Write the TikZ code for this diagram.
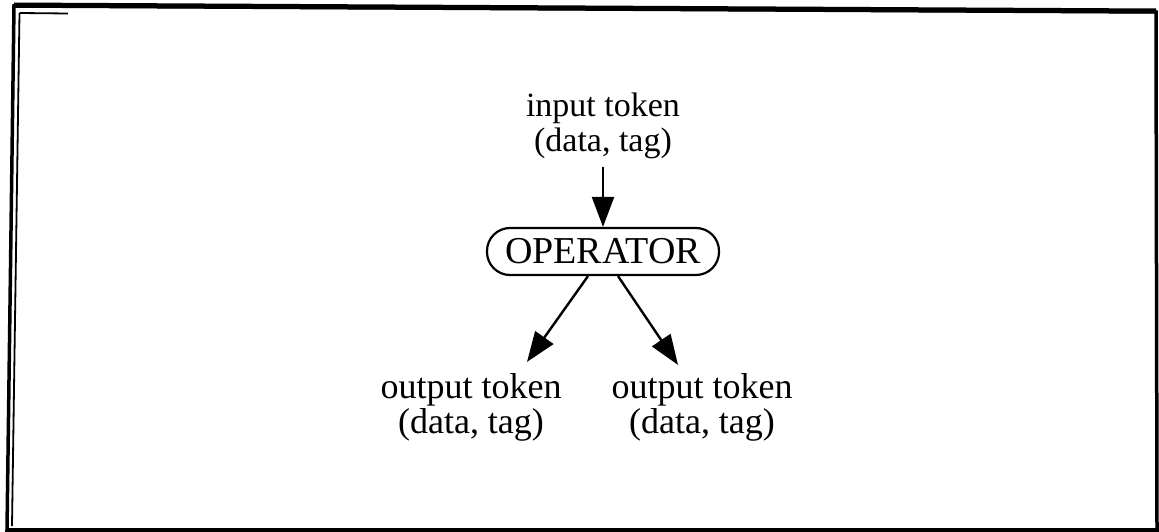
\documentclass[tikz,border=0pt]{standalone}
\usepackage{fontspec}
\setmainfont{Liberation Serif}
\usetikzlibrary{arrows.meta}
\begin{document}
\begin{tikzpicture}[x=1pt,y=-1pt,
  token/.style={font=\fontsize{34}{35}\selectfont, align=center, inner sep=0pt},
  bigtoken/.style={token, font=\fontsize{36}{35}\selectfont},
  opbox/.style={draw, line width=2.2pt, rounded corners=23pt,
    minimum width=232pt, minimum height=47pt, inner sep=0pt,
    font=\fontsize{38}{38}\selectfont},
  flow/.style={line width=2.4pt, -{Triangle[length=30pt,width=22pt]}},
  frame/.style={line width=3.5pt, line join=miter}]
\useasboundingbox (0,0) rectangle (1159,532);

% outer frame with inner rule on the left
\draw[frame] (14,6) -- (1156,12) -- (1157,530) -- (7,530) -- cycle;
\draw[line width=5pt] (14,5) -- (1156,11);
\draw[line width=5pt] (7,530) -- (1157,530);
\draw[line width=1.8pt] (19.5,13) -- (12,526);
\draw[line width=1.8pt] (19.5,13) -- (68,13.5);

% nodes
\node[token] (in) at (603,126) {input token\\(data, tag)};
\node[opbox] (op) at (603,251.5) {OPERATOR};
\node[bigtoken] (outL) at (471,407) {output token\\(data, tag)};
\node[bigtoken] (outR) at (702,407) {output token\\(data, tag)};

% connectors
\draw[flow, shorten <=8pt] (in.south) -- (op.north);
\draw[flow] ([xshift=-15pt]op.south) -- ([xshift=56pt,yshift=11pt]outL.north);
\draw[flow] ([xshift=15pt]op.south) -- ([xshift=-24pt,yshift=8pt]outR.north);
\end{tikzpicture}
\end{document}
